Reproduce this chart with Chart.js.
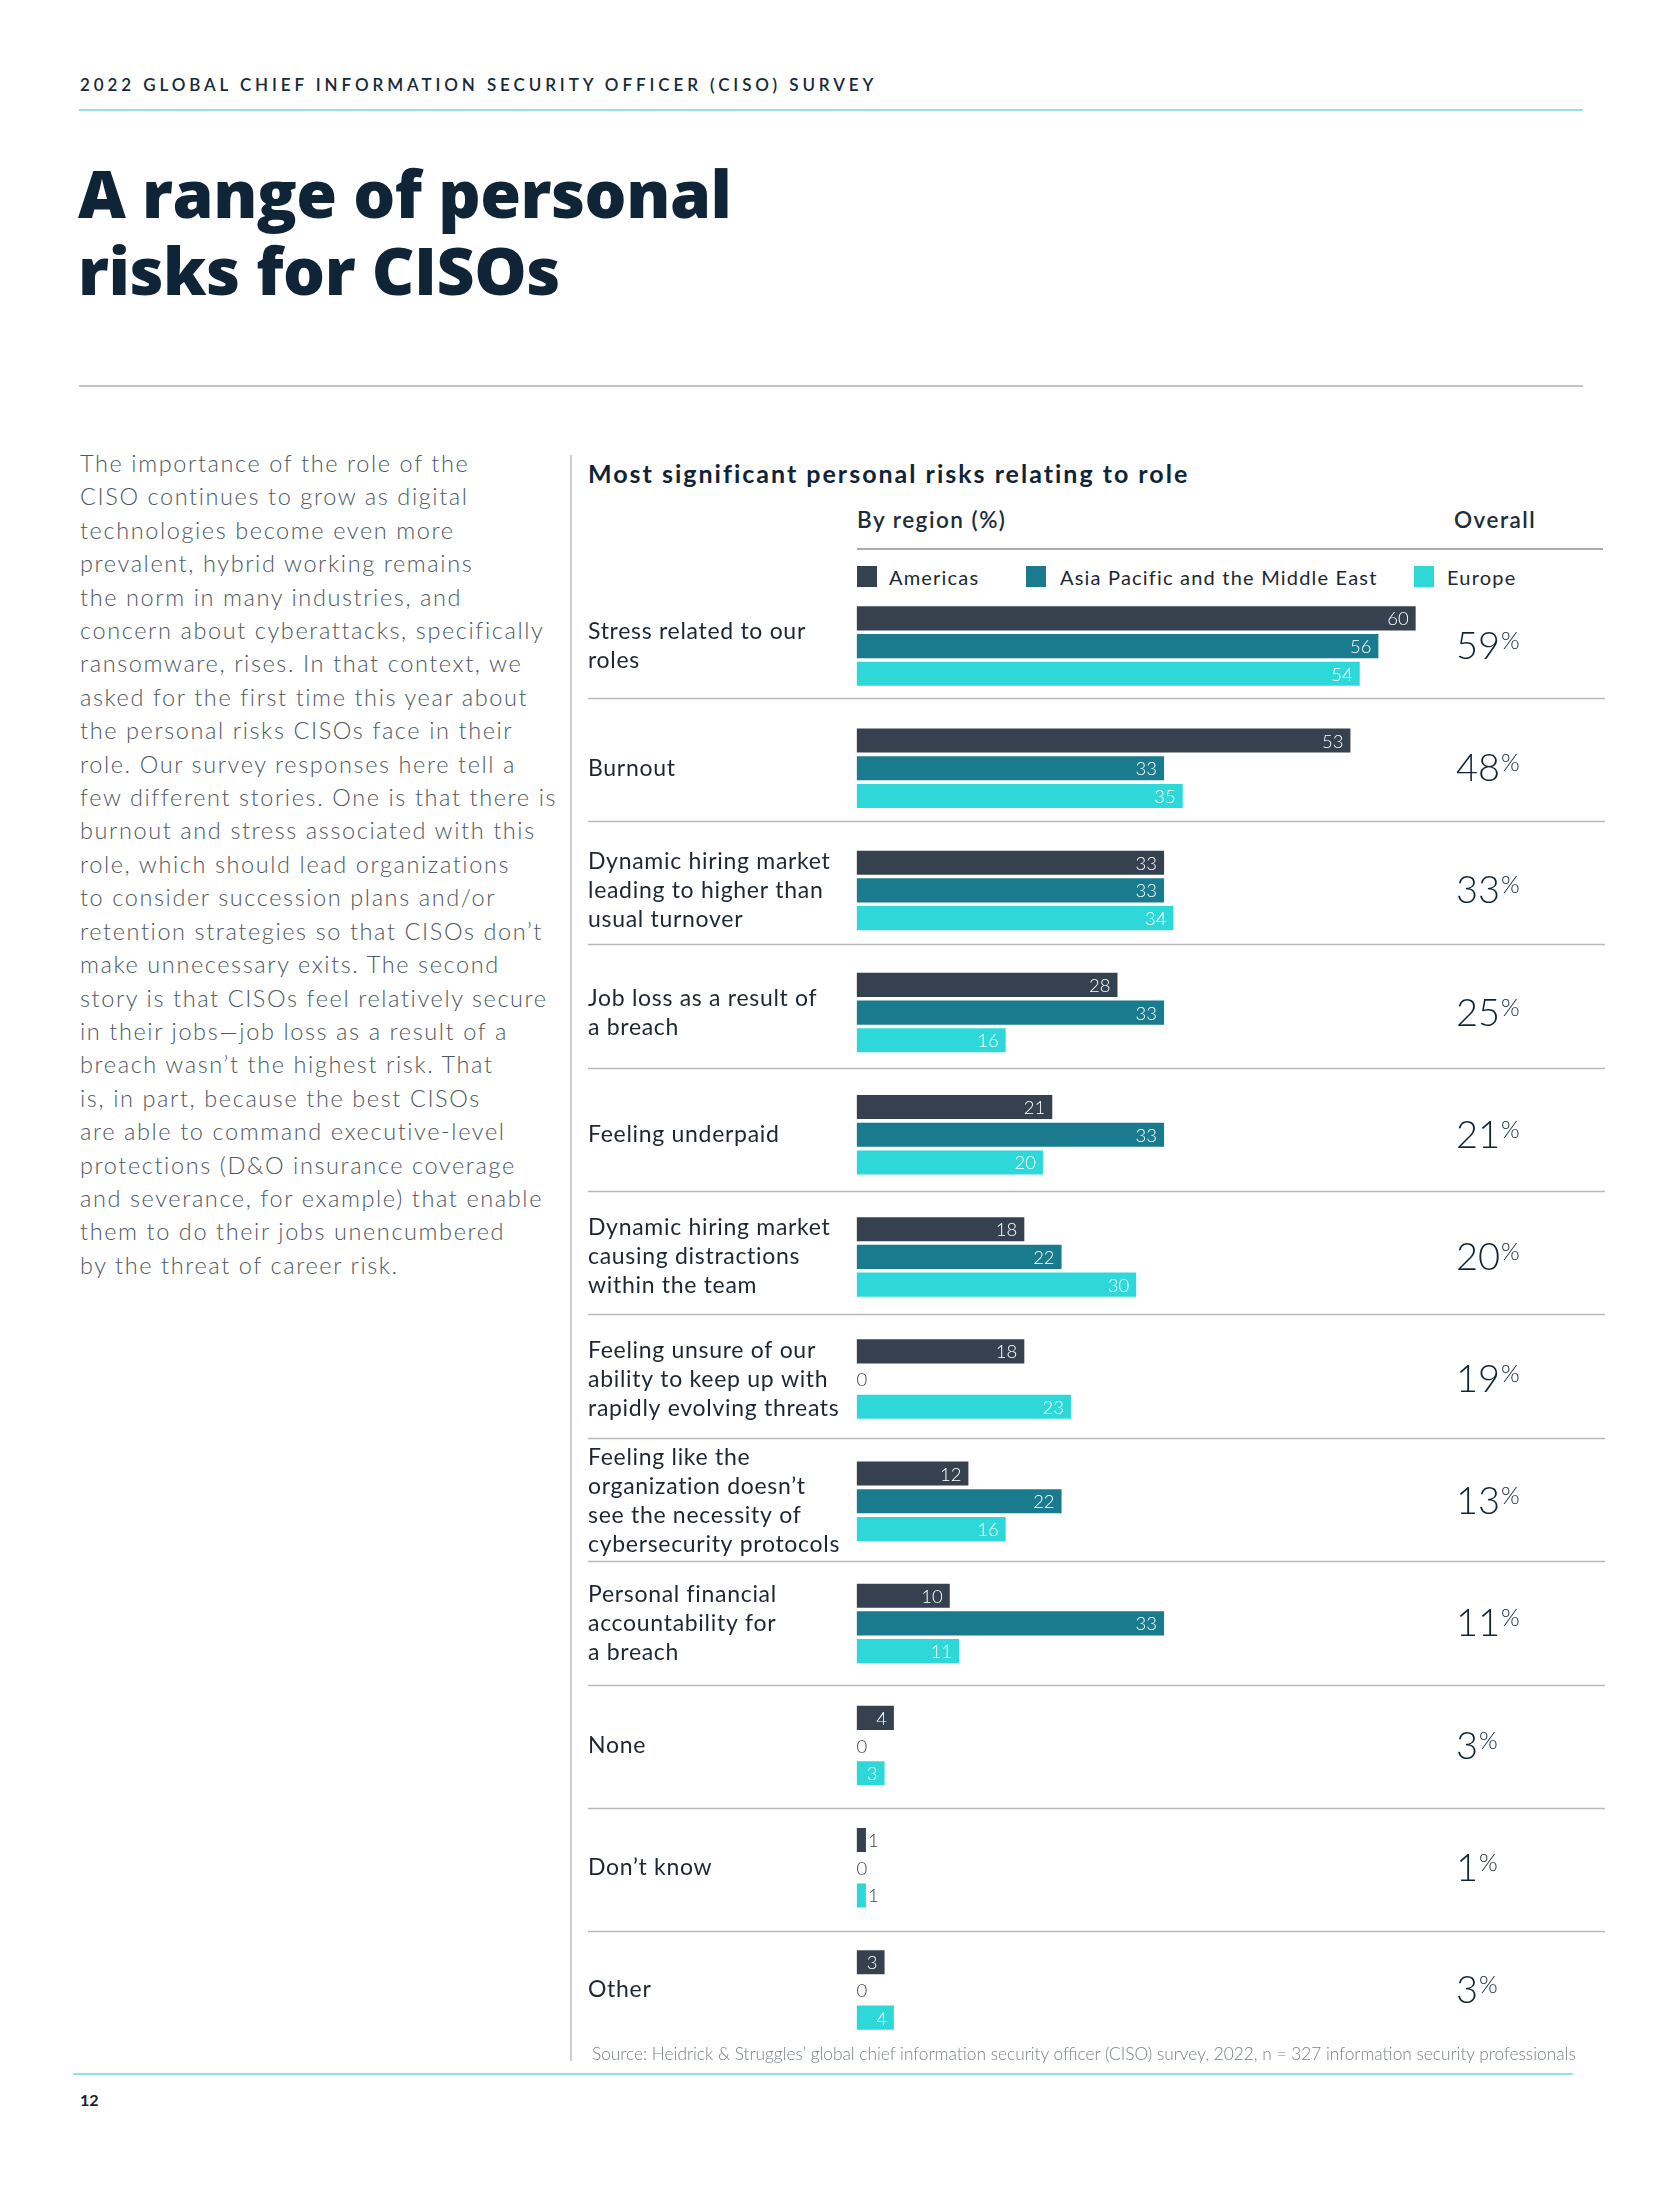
<!DOCTYPE html>
<html>
<head>
<meta charset="utf-8">
<script src="https://cdn.jsdelivr.net/npm/chart.js@4.4.1/dist/chart.umd.min.js"></script>
<style>
  html,body{margin:0;padding:0;background:#fff;}
  body{width:1654px;height:2200px;position:relative;overflow:hidden;font-family:Lato,"Noto Sans",sans-serif;color:#0f2537;}
  .abs{position:absolute;white-space:nowrap;}
  .hdr{left:80px;top:75px;font-size:17px;line-height:20px;letter-spacing:3.9px;font-weight:600;color:#152a3a;}
  .title{left:78px;top:154px;font-family:"Open Sans",Lato,sans-serif;font-size:66px;line-height:77px;font-weight:800;color:#0f2537;letter-spacing:-0.5px;}
  .para{left:80px;top:447px;font-size:23.5px;line-height:33.4px;font-weight:300;letter-spacing:1.6px;color:#4e5963;}
  .ctitle{left:588px;top:458px;font-size:25px;line-height:30px;font-weight:700;letter-spacing:2px;color:#0f2537;}
  .sub{top:506px;font-size:22.5px;line-height:28px;font-weight:600;letter-spacing:1.5px;color:#1d2d3c;}
  .leg{top:564px;font-size:20px;line-height:26px;letter-spacing:1.2px;color:#1d2733;}
  .sw{position:absolute;top:566px;width:20px;height:21px;}
  .src{left:592px;top:2043px;font-size:17.3px;line-height:22px;font-weight:300;color:#7a8288;}
  .pg{left:80px;top:2090px;font-size:16px;line-height:20px;font-weight:700;color:#0f2537;}
  .hl{position:absolute;}
  #wrap{position:absolute;left:588px;top:585px;width:1017px;height:1466px;}
</style>
</head>
<body>
<div class="abs hdr">2022 GLOBAL CHIEF INFORMATION SECURITY OFFICER (CISO) SURVEY</div>
<div class="hl" style="left:79px;top:109px;width:1504px;height:2px;background:#8fe3e8;"></div>
<div class="abs title">A range of personal<br>risks for CISOs</div>
<div class="hl" style="left:79px;top:385px;width:1504px;height:2px;background:#c4c4c4;"></div>

<div class="abs para">The importance of the role of the<br>CISO continues to grow as digital<br>technologies become even more<br>prevalent, hybrid working remains<br>the norm in many industries, and<br>concern about cyberattacks, specifically<br>ransomware, rises. In that context, we<br>asked for the first time this year about<br>the personal risks CISOs face in their<br>role. Our survey responses here tell a<br>few different stories. One is that there is<br>burnout and stress associated with this<br>role, which should lead organizations<br>to consider succession plans and/or<br>retention strategies so that CISOs don’t<br>make unnecessary exits. The second<br>story is that CISOs feel relatively secure<br>in their jobs—job loss as a result of a<br>breach wasn’t the highest risk. That<br>is, in part, because the best CISOs<br>are able to command executive-level<br>protections (D&amp;O insurance coverage<br>and severance, for example) that enable<br>them to do their jobs unencumbered<br>by the threat of career risk.</div>

<div class="hl" style="left:570px;top:455px;width:1.5px;height:1606px;background:#cfcfcf;"></div>

<div class="abs ctitle">Most significant personal risks relating to role</div>
<div class="abs sub" style="left:857px;">By region (%)</div>
<div class="abs sub" style="left:1454px;">Overall</div>
<div class="hl" style="left:857px;top:548px;width:746px;height:1.5px;background:#aaaaaa;"></div>

<div class="sw" style="left:857px;background:#36414f;"></div>
<div class="abs leg" style="left:889px;">Americas</div>
<div class="sw" style="left:1026px;background:#1b7b8e;"></div>
<div class="abs leg" style="left:1060px;">Asia Pacific and the Middle East</div>
<div class="sw" style="left:1414px;background:#2ed8d9;"></div>
<div class="abs leg" style="left:1447px;">Europe</div>

<div id="wrap"><canvas id="chartRisks" width="1017" height="1466"></canvas></div>

<div class="abs src">Source: Heidrick &amp; Struggles’ global chief information security officer (CISO) survey, 2022, n = 327 information security professionals</div>
<div class="hl" style="left:73px;top:2073px;width:1500px;height:2px;background:#8fe3e8;"></div>
<div class="abs pg">12</div>

<script>
// ─── DATA ───────────────────────────────────────────────────────────
const categories=[
  ['Stress related to our','roles'],
  'Burnout',
  ['Dynamic hiring market','leading to higher than','usual turnover'],
  ['Job loss as a result of','a breach'],
  'Feeling underpaid',
  ['Dynamic hiring market','causing distractions','within the team'],
  ['Feeling unsure of our','ability to keep up with','rapidly evolving threats'],
  ['Feeling like the','organization doesn’t','see the necessity of','cybersecurity protocols'],
  ['Personal financial','accountability for','a breach'],
  'None',
  'Don’t know',
  'Other'
];
const seriesNames=['Americas','Asia Pacific and the Middle East','Europe'];
const americas=[60,53,33,28,21,18,18,12,10,4,1,3];
const asiaPacificME=[56,33,33,33,33,22,0,22,33,0,0,0];
const europe=[54,35,34,16,20,30,23,16,11,3,1,4];
const overall=[59,48,33,25,21,20,19,13,11,3,1,3];

const COLORS=['#36414f','#1b7b8e','#2ed8d9'];
const FONT='Lato, "Noto Sans", sans-serif';

// ─── PLUGINS ────────────────────────────────────────────────────────
// a bit of tracking so the labels come out as wide as the original face
const tracking={
  id:'tracking',
  beforeUpdate(chart){chart.ctx.letterSpacing='0.7px';},
  beforeDraw(chart){chart.ctx.letterSpacing='0.7px';}
};

// thin rules between the rows (the print layout spaces them a hair wider than the bars)
const rowRules={
  id:'rowRules',
  beforeDatasetsDraw(chart){
    const {ctx}=chart, y=chart.scales.y;
    ctx.save();
    ctx.strokeStyle='#b8b8b8';
    ctx.lineWidth=1.5;
    for(let i=0;i<categories.length-1;i++){
      const mid=(y.getPixelForValue(i)+y.getPixelForValue(i+1))/2;
      const yy=Math.round(mid+(i-8)*1.2)+0.5;
      ctx.beginPath();ctx.moveTo(0,yy);ctx.lineTo(chart.width,yy);ctx.stroke();
    }
    ctx.restore();
  }
};

// numbers on the bars + overall % column
const barValues={
  id:'barValues',
  afterDatasetsDraw(chart){
    const {ctx}=chart;
    ctx.save();
    ctx.letterSpacing='0px';
    ctx.font='300 18.5px '+FONT;
    ctx.textBaseline='middle';
    chart.data.datasets.forEach((ds,di)=>{
      chart.getDatasetMeta(di).data.forEach((bar,i)=>{
        const v=ds.data[i];
        const txt=String(v);
        const w=ctx.measureText(txt).width;
        if(v===0){
          ctx.fillStyle='#3a4450';ctx.textAlign='left';
          ctx.fillText(txt,bar.base,bar.y+1);
        }else if(bar.x-bar.base<w+12){
          ctx.fillStyle='#3a4450';ctx.textAlign='left';
          ctx.fillText(txt,bar.x+2,bar.y+1);
        }else{
          ctx.fillStyle='#ffffff';ctx.textAlign='right';
          ctx.fillText(txt,bar.x-7,bar.y+1);
        }
      });
    });
    // overall column
    const y=chart.scales.y, left=chart.chartArea.right-146;
    ctx.fillStyle='#0f2537';
    ctx.textAlign='left';
    ctx.textBaseline='alphabetic';
    overall.forEach((v,i)=>{
      const cy=y.getPixelForValue(i)-1;
      ctx.font='300 38px '+FONT;
      const t=String(v);
      ctx.fillText(t,left,cy+14);
      const w=ctx.measureText(t).width;
      ctx.font='300 24px '+FONT;
      ctx.fillText('%',left+w+1,cy+4);
    });
    ctx.restore();
  }
};

// ─── CHART ──────────────────────────────────────────────────────────
new Chart(document.getElementById('chartRisks'),{
  type:'bar',
  data:{
    labels:categories,
    datasets:[americas,asiaPacificME,europe].map((d,i)=>({
      label:seriesNames[i],data:d,backgroundColor:COLORS[i],borderWidth:0,
      categoryPercentage:0.68,barPercentage:0.87
    }))
  },
  options:{
    indexAxis:'y',
    responsive:false,
    animation:false,
    devicePixelRatio:1,
    layout:{padding:{left:0,right:3,top:0,bottom:0}},
    plugins:{legend:{display:false},tooltip:{enabled:false}},
    scales:{
      x:{display:false,min:0,max:80},
      y:{
        grid:{display:false,drawTicks:false},
        border:{display:false},
        afterFit(s){s.width=268.6;s.paddingTop=0;s.paddingBottom=0;},
        ticks:{crossAlign:'far',padding:0,color:'#1d2733',font:{family:FONT,size:23,lineHeight:29/23}}
      }
    }
  },
  plugins:[tracking,rowRules,barValues]
});
</script>
</body>
</html>
